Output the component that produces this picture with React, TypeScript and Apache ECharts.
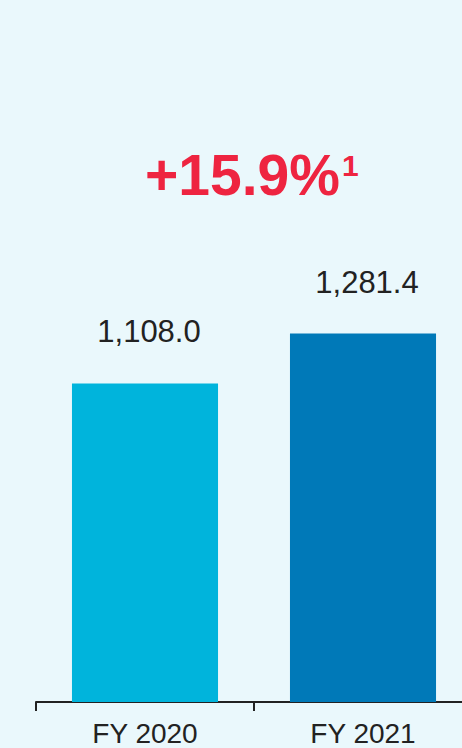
import React, { useEffect, useRef } from "react";
import * as echarts from "echarts";

const categories = ["FY 2020", "FY 2021"];
const values = [1108.0, 1281.4];
const valueLabels = ["1,108.0", "1,281.4"];
const barColors = ["#00B4DC", "#0079B8"];
const growthText = "+15.9%";
const growthNote = "1";

export default function App() {
  const ref = useRef<HTMLDivElement>(null);
  useEffect(() => {
    if (!ref.current) return;
    const chart = echarts.init(ref.current, null, { renderer: "svg" });
    chart.setOption({
      animation: false,
      backgroundColor: "#EAF8FC",
      grid: { left: 36, right: 0, top: 127, bottom: 46, containLabel: false },
      xAxis: {
        type: "category",
        data: categories,
        axisLine: { show: true, lineStyle: { color: "#222222", width: 2 } },
        axisTick: { show: true, length: 9, lineStyle: { color: "#222222", width: 2 } },
        axisLabel: {
          color: "#222222",
          fontSize: 28,
          fontFamily: "Liberation Sans, Arial, sans-serif",
          margin: 17,
        },
      },
      yAxis: {
        type: "value",
        min: 0,
        max: 2000,
        show: false,
        splitLine: { show: false },
      },
      series: [
        {
          type: "bar",
          barWidth: "67%",
          data: values.map((v, i) => ({
            value: v,
            itemStyle: { color: barColors[i] },
            label: {
              show: true,
              position: "top",
              distance: 36,
              offset: [4, 0],
              formatter: () => valueLabels[i],
              color: "#222222",
              fontSize: 31,
              fontFamily: "Liberation Sans, Arial, sans-serif",
            },
          })),
        },
      ],
      graphic: [
        {
          type: "text",
          left: 145,
          top: 146,
          style: {
            text: growthText,
            fill: "#EE2440",
            font: "bold 57px 'Liberation Sans', Arial, sans-serif",
          },
        },
        {
          type: "text",
          left: 342,
          top: 150,
          style: {
            text: growthNote,
            fill: "#EE2440",
            font: "bold 30px 'Liberation Sans', Arial, sans-serif",
          },
        },
      ],
    });
    return () => chart.dispose();
  }, []);
  return (
    <div
      ref={ref}
      style={{ position: "fixed", left: 0, top: 0, width: 472, height: 748 }}
    />
  );
}
